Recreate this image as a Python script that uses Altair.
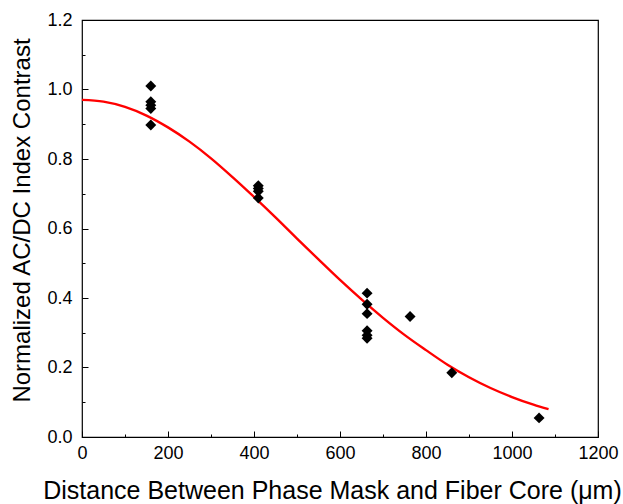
import altair as alt
import pandas as pd

# measured points
pts_x = [160, 160, 160, 160, 160,
         410, 410, 410, 410,
         663, 663, 663, 663, 663, 663,
         763, 860, 1063]
pts_y = [1.010, 0.965, 0.955, 0.945, 0.898,
         0.723, 0.715, 0.707, 0.688,
         0.414, 0.382, 0.355, 0.306, 0.293, 0.284,
         0.347, 0.185, 0.055]

# fitted curve
fit_x = [0, 50, 100, 150, 200, 250, 300, 350, 400, 450, 500, 550,
         600, 650, 700, 750, 800, 850, 900, 950, 1000, 1050, 1085]
fit_y = [0.970, 0.965, 0.950, 0.925, 0.891, 0.850, 0.802, 0.748, 0.691,
         0.632, 0.571, 0.511, 0.452, 0.396, 0.343, 0.294, 0.250, 0.208,
         0.172, 0.141, 0.115, 0.093, 0.080]

x_major = [0, 200, 400, 600, 800, 1000, 1200]
x_minor = [100, 300, 500, 700, 900, 1100]
y_major = [0.0, 0.2, 0.4, 0.6, 0.8, 1.0, 1.2]
y_minor = [0.1, 0.3, 0.5, 0.7, 0.9, 1.1]

pts = pd.DataFrame({"x": pts_x, "y": pts_y})
fit = pd.DataFrame({"x": fit_x, "y": fit_y})

FONT = "Liberation Sans"
W, H = 516, 417

xscale = alt.Scale(domain=[0, 1200], nice=False)
yscale = alt.Scale(domain=[0, 1.2], nice=False)

x_axis_major = alt.Axis(
    values=x_major, orient="bottom", offset=-6, tickSize=6, domain=False,
    grid=False, labelPadding=7, labelFontSize=18, labelFont=FONT,
    labelColor="black", tickColor="black", format="d",
    titleFont=FONT, titleFontSize=25, titleFontWeight="normal",
    titleColor="black", titleX=250, titleY=59, titleBaseline="middle",
    labelFlush=False,
    title="Distance Between Phase Mask and Fiber Core (\u03bcm)")
y_axis_major = alt.Axis(
    values=y_major, orient="left", offset=-6, tickSize=6, domain=False,
    grid=False, labelPadding=10, labelFontSize=18, labelFont=FONT,
    labelColor="black", tickColor="black", format=".1f",
    titleFont=FONT, titleFontSize=24, titleFontWeight="normal",
    titleColor="black", titleX=-66, titleY=200, titleBaseline="middle",
    titleAngle=270, labelFlush=False,
    title="Normalized AC/DC Index Contrast")

x_axis_minor = alt.Axis(values=x_minor, orient="bottom", offset=-3, tickSize=3,
                        domain=False, grid=False, labels=False, title="",
                        tickColor="black")
y_axis_minor = alt.Axis(values=y_minor, orient="left", offset=-3, tickSize=3,
                        domain=False, grid=False, labels=False, title="",
                        tickColor="black")

points = alt.Chart(pts).mark_point(
    shape="diamond", filled=True, color="black", size=120, opacity=1
).encode(
    x=alt.X("x:Q", scale=xscale, axis=x_axis_major),
    y=alt.Y("y:Q", scale=yscale, axis=y_axis_major),
)

line = alt.Chart(fit).mark_line(color="#ff0000", strokeWidth=2.4,
                                interpolate="monotone").encode(
    x=alt.X("x:Q", scale=xscale, axis=x_axis_minor),
    y=alt.Y("y:Q", scale=yscale, axis=y_axis_minor),
)

chart = alt.layer(line, points).resolve_axis(
    x="independent", y="independent"
).properties(
    width=W, height=H,
    autosize=alt.AutoSizeParams(type="none"),
    padding={"left": 82, "top": 20, "right": 25, "bottom": 67},
    background="white",
).configure_view(stroke="black", strokeWidth=1.2)

chart.save("out.html", embed_options={"renderer": "svg", "actions": False})
